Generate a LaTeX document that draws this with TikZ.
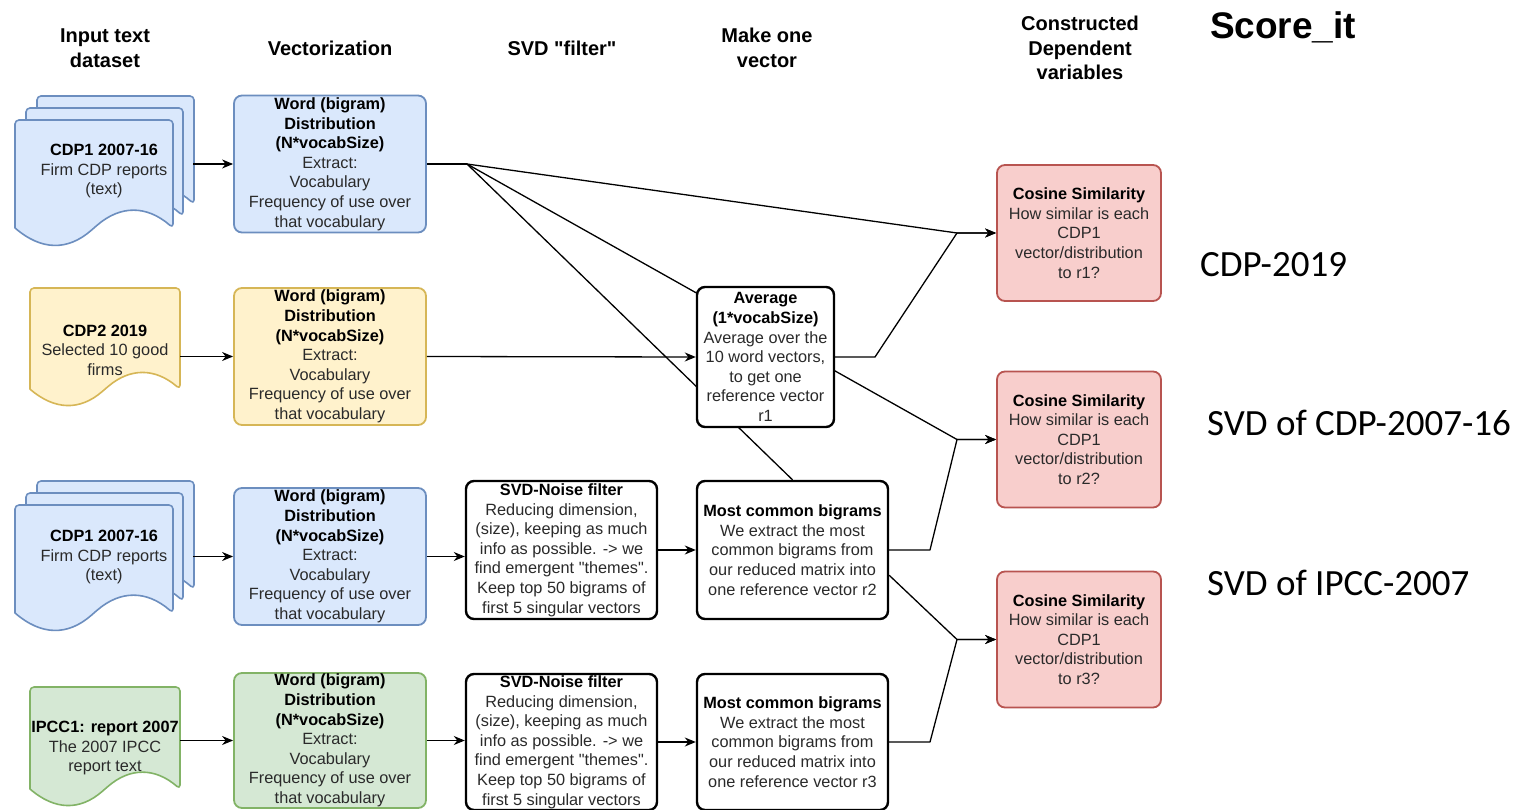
\documentclass[tikz,border=0pt]{standalone}
\usepackage{fontspec}
\setmainfont{Liberation Sans}
\newfontfamily\lib{Liberation Sans}
\newfontfamily\carl{Carlito}
\usetikzlibrary{arrows.meta,calc,backgrounds}
\definecolor{bluefill}{HTML}{DAE8FC}
\definecolor{blueline}{HTML}{6C8EBF}
\definecolor{yelfill}{HTML}{FFF2CC}
\definecolor{yelline}{HTML}{D6B656}
\definecolor{grnfill}{HTML}{D5E8D4}
\definecolor{grnline}{HTML}{82B366}
\definecolor{redfill}{HTML}{F8CECC}
\definecolor{redline}{HTML}{B85450}
\definecolor{txt}{HTML}{2A2A2A}
\newcommand\docshape[6]{%
 \pgfmathsetmacro\xa{#3}\pgfmathsetmacro\ya{#4}%
 \pgfmathsetmacro\xb{#3+#5}%
 \pgfmathsetmacro\yend{#4+#6-0.15*#6}%
 \pgfmathsetmacro\yup{#4+#6-0.33*#6}%
 \pgfmathsetmacro\ydn{#4+#6+0.03*#6}%
 \pgfmathsetmacro\xc{#3+5*#5/6}\pgfmathsetmacro\xd{#3+2*#5/3}%
 \pgfmathsetmacro\xm{#3+#5/2}%
 \pgfmathsetmacro\xe{#3+#5/3}\pgfmathsetmacro\xf{#3+#5/6}%
 \path[fill=#1, draw=#2, line width=1.6pt, line cap=round, line join=round, rounded corners=4pt]
   (\xa,\yend) -- (\xa,\ya) -- (\xb,\ya) -- (\xb,\yend)
   .. controls (\xc,\yup) and (\xd,\yup) .. (\xm,\yend)
   .. controls (\xe,\ydn) and (\xf,\ydn) .. (\xa,\yend);
}
\newcommand\vectext{\textbf{\color{black}Word (bigram)}\\\textbf{\color{black}Distribution}\\\textbf{\color{black}(N*vocabSize)}\\Extract:\\Vocabulary\\Frequency of use over\\that vocabulary}
\newcommand\svdtext{\textbf{\color{black}SVD-Noise filter}\\Reducing dimension,\\(size), keeping as much\\info as possible. -> we\\find emergent "themes".\\Keep top 50 bigrams of\\first 5 singular vectors}
\newcommand\bigtext[1]{\textbf{\color{black}Most common bigrams}\\We extract the most\\common bigrams from\\our reduced matrix into\\one reference vector #1}
\newcommand\costext[1]{\textbf{\color{black}Cosine Similarity}\\How similar is each\\CDP1\\vector/distribution\\to #1?}
\tikzset{
  every node/.style={font=\lib\fontsize{16.3}{19.6}\selectfont, text=txt, inner sep=0pt, align=center},
  vbox/.style={draw, rounded corners=8pt, line width=1.8pt, minimum width=192pt, minimum height=137pt},
  kbox/.style={draw=black, fill=white, rounded corners=8pt, line width=2.4pt, minimum width=191pt, minimum height=138pt},
  cbox/.style={draw=redline, fill=redfill, rounded corners=8pt, line width=1.8pt, minimum width=164pt, minimum height=136pt},
  doctext/.style={minimum height=60pt},
  head/.style={font=\lib\fontsize{20}{24.5}\selectfont\bfseries, text=black},
  side/.style={font=\carl\fontsize{37}{44}\selectfont, text=black, anchor=west},
  conn/.style={draw=black, line width=1.3pt, line join=round},
  arr/.style={conn, -{Stealth[length=11pt,width=9pt,inset=3.5pt]}},
}
\begin{document}
\begin{tikzpicture}[x=1pt,y=-1pt]
\useasboundingbox (0,0) rectangle (1526,810);

% headers
\node[head] (h1) at (105,48) {Input text\\dataset};
\node[head] (h2) at (330,48) {Vectorization};
\node[head] (h3) at (562,48) {SVD "filter"};
\node[head] (h4) at (767,48) {Make one\\vector};
\node[head] (h5) at (1080,48) {Constructed\\Dependent\\variables};
\node[font=\lib\fontsize{37}{44}\selectfont\bfseries, text=black] (title) at (1283,27) {Score\_it};

% documents
\docshape{bluefill}{blueline}{37}{96}{157}{127}
\docshape{bluefill}{blueline}{26}{108}{157}{127}
\docshape{bluefill}{blueline}{15}{120}{158}{127}
\node[doctext, minimum width=178pt] (doc1) at (104,171) {\textbf{\color{black}CDP1 2007-16}\\Firm CDP reports\\(text)};

\docshape{yelfill}{yelline}{30}{288}{150}{119}
\node[doctext, minimum width=150pt] (doc2) at (105,350) {\textbf{\color{black}CDP2 2019}\\Selected 10 good\\firms};

\docshape{bluefill}{blueline}{37}{481}{157}{127}
\docshape{bluefill}{blueline}{26}{493}{157}{127}
\docshape{bluefill}{blueline}{15}{505}{158}{127}
\node[doctext, minimum width=178pt] (doc3) at (104,557) {\textbf{\color{black}CDP1 2007-16}\\Firm CDP reports\\(text)};

\docshape{grnfill}{grnline}{30}{687}{150}{120}
\node[doctext, minimum width=150pt] (doc4) at (105,748) {\textbf{\color{black}IPCC1: report 2007}\\The 2007 IPCC\\report text};

% vectorization
\node[vbox, draw=blueline, fill=bluefill] (vec1) at (330,164) {\vectext};
\node[vbox, draw=yelline, fill=yelfill] (vec2) at (330,356.5) {\vectext};
\node[vbox, draw=blueline, fill=bluefill] (vec3) at (330,556.5) {\vectext};
\node[vbox, draw=grnline, fill=grnfill, minimum height=135pt] (vec4) at (330,740.5) {\vectext};

% svd / make one vector
\node[kbox, minimum width=137pt, minimum height=140pt] (avg) at (765.5,357) {\textbf{\color{black}Average}\\\textbf{\color{black}(1*vocabSize)}\\Average over the\\10 word vectors,\\to get one\\reference vector\\r1};
\node[kbox] (svd3) at (561.5,550) {\svdtext};
\node[kbox, minimum height=136pt] (svd4) at (561.5,742) {\svdtext};
\node[kbox] (big3) at (792.5,550) {\bigtext{r2}};
\node[kbox, minimum height=136pt] (big4) at (792.5,742) {\bigtext{r3}};

% cosine
\node[cbox] (cos1) at (1079,233) {\costext{r1}};
\node[cbox] (cos2) at (1079,439.5) {\costext{r2}};
\node[cbox] (cos3) at (1079,639.5) {\costext{r3}};

% side labels
\node[side] (l1) at (1200,265) {CDP-2019};
\node[side] (l2) at (1207,423) {SVD of CDP-2007-16};
\node[side] (l3) at (1207,583) {SVD of IPCC-2007};

% connectors
\coordinate (b1) at (467,164);
\coordinate (j1) at (957,233);
\coordinate (j2) at (957,439.5);
\coordinate (j3) at (957,639.5);
\coordinate (k1) at (875,357);
\coordinate (k2) at (930,550);
\coordinate (k3) at (930,742);
\coordinate (s3) at ($(big3.north east)!0.68!(big3.south east)$);

\draw[arr] (vec1.west -| doc1.east) -- (vec1.west);
\draw[arr] (vec2.west -| doc2.east) -- (vec2.west);
\draw[arr] (vec3.west -| doc3.east) -- (vec3.west);
\draw[arr] (vec4.west -| doc4.east) -- (vec4.west);

\draw[arr] (vec2.east) -- (avg.west);
\draw[arr] (vec3.east) -- (vec3.east -| svd3.west);
\draw[arr] (svd3.east) -- (big3.west);
\draw[arr] (vec4.east) -- (vec4.east -| svd4.west);
\draw[arr] (svd4.east) -- (big4.west);

\begin{scope}[on background layer]
\fill[white] (0,0) rectangle (1526,810);
\draw[conn] (vec1.east) -- (b1);
\draw[arr] (b1) -- (j1) -- (cos1.west);
\draw[arr] (b1) -- (j2) -- (cos2.west);
\draw[conn] (b1) -- (big3.north);
\end{scope}
\draw[arr] (avg.east) -- (k1) -- (j1) -- (cos1.west);
\draw[arr] (big3.east) -- (k2) -- (j2) -- (cos2.west);
\draw[arr] (s3) -- (j3) -- (cos3.west);
\draw[arr] (big4.east) -- (k3) -- (j3) -- (cos3.west);
\end{tikzpicture}
\end{document}
